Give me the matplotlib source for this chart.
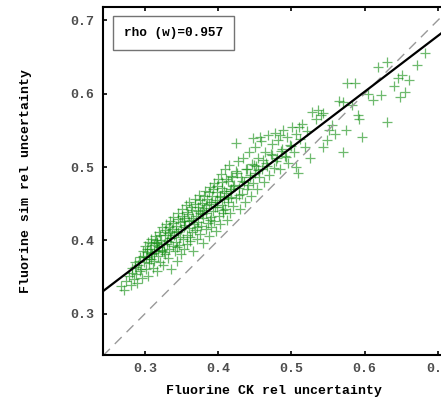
import numpy as np
from matplotlib import pyplot as plt

#points (CK vs sim relative uncertainty)
ck_rel = [0.268, 0.272, 0.275, 0.279, 0.281, 0.283, 0.285, 0.287, 0.288, 0.290, 0.291, 0.293, 0.294, 0.296, 0.297, 0.299,
          0.300, 0.301, 0.302, 0.303, 0.304, 0.305, 0.306, 0.307, 0.308, 0.309, 0.310, 0.311, 0.312, 0.313, 0.314, 0.315,
          0.316, 0.317, 0.318, 0.319, 0.320, 0.321, 0.322, 0.323, 0.324, 0.325, 0.326, 0.327, 0.328, 0.329, 0.330, 0.331,
          0.332, 0.333, 0.334, 0.335, 0.336, 0.337, 0.338, 0.339, 0.340, 0.341, 0.342, 0.343, 0.344,
          0.345, 0.346, 0.347, 0.348, 0.349, 0.350, 0.351, 0.352, 0.353, 0.354, 0.355, 0.356, 0.357, 0.358, 0.359, 0.360,
          0.361, 0.362, 0.363, 0.364, 0.365, 0.366, 0.367, 0.368, 0.369, 0.370, 0.371, 0.372, 0.373, 0.374, 0.375, 0.376,
          0.377, 0.378, 0.379, 0.380,
          0.381, 0.382, 0.383, 0.384, 0.385, 0.386, 0.387, 0.388, 0.389, 0.390, 0.391, 0.392, 0.393, 0.394, 0.395, 0.396,
          0.397, 0.398, 0.399, 0.400, 0.401, 0.402, 0.403, 0.404, 0.405, 0.406, 0.407, 0.408, 0.409, 0.410, 0.411, 0.412,
          0.413, 0.414, 0.415, 0.416, 0.417, 0.418, 0.419, 0.420,
          0.422, 0.424, 0.425, 0.427, 0.428, 0.430, 0.431, 0.433, 0.434, 0.436, 0.437, 0.439, 0.440, 0.442, 0.443, 0.445,
          0.446, 0.448, 0.450, 0.451, 0.453, 0.455, 0.456, 0.458, 0.460, 0.462, 0.464, 0.466, 0.468, 0.470, 0.425, 0.447,
          0.457, 0.484, 0.472, 0.474, 0.476, 0.478, 0.480, 0.482, 0.485, 0.487, 0.489, 0.491, 0.494, 0.496, 0.498, 0.501,
          0.503, 0.506, 0.509, 0.512, 0.515, 0.518, 0.522, 0.526, 0.507, 0.510,
          0.528, 0.533, 0.536, 0.540, 0.543, 0.543, 0.548, 0.552, 0.555, 0.560, 0.565, 0.570, 0.571, 0.575, 0.576, 0.583,
          0.587, 0.591, 0.593, 0.597,
          0.605, 0.612, 0.618, 0.623, 0.630, 0.631, 0.640, 0.645, 0.648, 0.651, 0.655, 0.660, 0.672, 0.682,
          # extra points in the dense core
          0.282, 0.286, 0.292, 0.295, 0.298, 0.303, 0.306, 0.309, 0.312, 0.315, 0.318, 0.321, 0.324, 0.327, 0.330, 0.333,
          0.336, 0.339, 0.342, 0.345, 0.348, 0.351, 0.354, 0.357, 0.360, 0.363, 0.366, 0.369, 0.372, 0.375, 0.378, 0.381,
          0.384, 0.387, 0.390, 0.393, 0.396, 0.399, 0.402, 0.405, 0.408, 0.411, 0.414, 0.417, 0.421, 0.426, 0.432, 0.438,
          0.444, 0.449, 0.454, 0.461, 0.467, 0.473, 0.479, 0.486, 0.493, 0.500, 0.308, 0.317, 0.326, 0.335, 0.344, 0.353,
          0.362, 0.371, 0.380, 0.389, 0.398, 0.407, 0.416, 0.429, 0.441, 0.452]

sim_rel = [0.338, 0.333, 0.345, 0.352, 0.340, 0.362, 0.348, 0.371, 0.355, 0.342, 0.366, 0.378, 0.358, 0.349, 0.385, 0.370,
           0.392, 0.361, 0.377, 0.384, 0.352, 0.398, 0.369, 0.388, 0.375, 0.402, 0.381, 0.363, 0.394, 0.372, 0.406, 0.386,
           0.358, 0.398, 0.379, 0.412, 0.391, 0.371, 0.401, 0.385, 0.418, 0.366, 0.395, 0.407, 0.381, 0.422, 0.399, 0.376,
           0.410, 0.389, 0.427, 0.403, 0.361, 0.415, 0.393, 0.432, 0.408, 0.385, 0.420, 0.398, 0.372,
           0.411, 0.437, 0.394, 0.425, 0.382, 0.416, 0.443, 0.402, 0.430, 0.389, 0.421, 0.448, 0.408, 0.395, 0.436, 0.417,
           0.452, 0.399, 0.428, 0.411, 0.441, 0.386, 0.423, 0.457, 0.414, 0.433, 0.402, 0.446, 0.425, 0.462, 0.409, 0.438,
           0.420, 0.451, 0.396, 0.430,
           0.444, 0.468, 0.415, 0.437, 0.456, 0.424, 0.406, 0.449, 0.473, 0.432, 0.418, 0.461, 0.440, 0.478, 0.427, 0.452,
           0.413, 0.466, 0.445, 0.484, 0.434, 0.459, 0.422, 0.491, 0.448, 0.471, 0.437, 0.456, 0.498, 0.443, 0.465, 0.428,
           0.481, 0.452, 0.503, 0.438, 0.470, 0.459, 0.487, 0.447,
           0.476, 0.495, 0.458, 0.508, 0.471, 0.443, 0.486, 0.463, 0.513, 0.479, 0.452, 0.497, 0.470, 0.521, 0.486, 0.461,
           0.504, 0.478, 0.527, 0.492, 0.470, 0.512, 0.486, 0.535, 0.498, 0.479, 0.521, 0.505, 0.543, 0.489, 0.533, 0.540,
           0.541, 0.543, 0.518, 0.531, 0.499, 0.547, 0.512, 0.537, 0.497, 0.525, 0.550, 0.515, 0.541, 0.506, 0.530, 0.555,
           0.520, 0.545, 0.492, 0.538, 0.559, 0.527, 0.549, 0.512, 0.500, 0.554,
           0.575, 0.566, 0.578, 0.571, 0.573, 0.527, 0.537, 0.550, 0.557, 0.545, 0.590, 0.588, 0.520, 0.550, 0.614, 0.585,
           0.614, 0.571, 0.565, 0.541,
           0.600, 0.592, 0.636, 0.598, 0.643, 0.561, 0.610, 0.621, 0.595, 0.625, 0.602, 0.618, 0.639, 0.655,
           0.356, 0.364, 0.372, 0.361, 0.379, 0.389, 0.375, 0.396, 0.383, 0.401, 0.392, 0.408, 0.387, 0.414, 0.395, 0.419,
           0.404, 0.424, 0.413, 0.429, 0.405, 0.434, 0.419, 0.439, 0.427, 0.445, 0.431, 0.449, 0.440, 0.455, 0.436, 0.461,
           0.448, 0.466, 0.453, 0.470, 0.446, 0.474, 0.461, 0.479, 0.467, 0.484, 0.458, 0.488, 0.474, 0.492, 0.481, 0.498,
           0.489, 0.503, 0.496, 0.509, 0.502, 0.516, 0.508, 0.522, 0.514, 0.528, 0.383, 0.397, 0.384, 0.412, 0.391, 0.426,
           0.405, 0.418, 0.441, 0.428, 0.455, 0.442, 0.468, 0.462, 0.475, 0.501]

#fitted line
fit_slope = 0.761
fit_intercept = 0.146
rho_w = 0.957

xticks = [0.3, 0.4, 0.5, 0.6, 0.7]
yticks = [0.3, 0.4, 0.5, 0.6, 0.7]
xlim = (0.243, 0.71)
ylim = (0.244, 0.718)

plt.rcParams['font.family'] = ['Liberation Mono', 'DejaVu Sans']

fig = plt.figure(figsize=(4.41, 4.0), dpi=100)
ax = fig.add_axes([0.2336, 0.1125, 0.776, 0.87])

ax.plot(ck_rel, sim_rel, '+', color=(0.05, 0.55, 0.05), alpha=0.6, markersize=7, markeredgewidth=0.9)

xx = np.array(xlim)
ax.plot(xx, xx, '--', color='0.6', linewidth=1.0, dashes=(7, 5))
ax.plot(xx, fit_intercept + fit_slope * xx, '-', color='black', linewidth=1.6)

ax.set_xlim(xlim)
ax.set_ylim(ylim)
ax.set_xticks(xticks)
ax.set_yticks(yticks)
ax.set_xticklabels(['%.1f' % t for t in xticks])
ax.set_yticklabels(['%.1f' % t for t in yticks])
ax.tick_params(direction='in', length=3, width=1.2, top=True, right=True, labelsize=9.5, colors='black',
               labelcolor='0.3', pad=6)
for lab in ax.get_xticklabels() + ax.get_yticklabels():
    lab.set_fontweight('bold')
for s in ax.spines.values():
    s.set_linewidth(1.5)

ax.set_xlabel('Fluorine CK rel uncertainty', fontsize=9.5, fontweight='bold', labelpad=7)
ax.set_ylabel('Fluorine sim rel uncertainty', fontsize=9.5, fontweight='bold', labelpad=28)

ax.text(0.061, 0.943, 'rho (w)=%.3f' % rho_w, transform=ax.transAxes, fontsize=9.2, fontweight='bold',
        va='top', ha='left',
        bbox=dict(boxstyle='square,pad=0.85', facecolor='white', edgecolor='0.45', linewidth=1.0))

fig.savefig('out.png', dpi=100)
